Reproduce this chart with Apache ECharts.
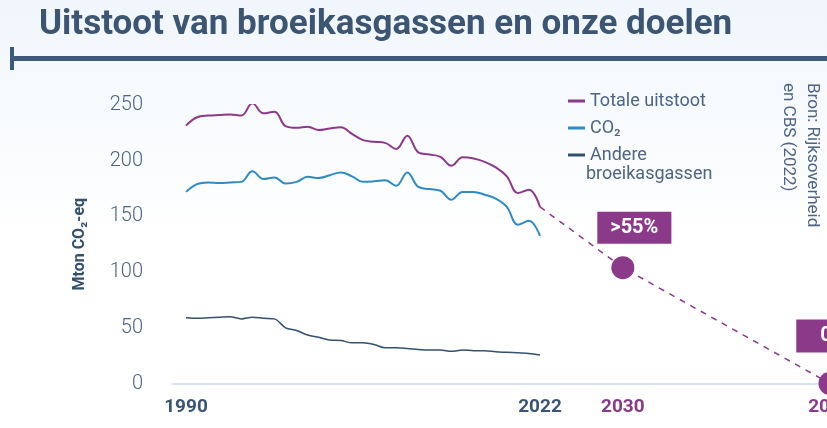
<!DOCTYPE html>
<html>
<head>
<meta charset="utf-8">
<script src="https://cdn.jsdelivr.net/npm/echarts@6/dist/echarts.min.js"></script>
<style>
  html, body { margin: 0; padding: 0; }
  #chart { width: 827px; height: 428px; }
</style>
</head>
<body>
<div id="chart"></div>
<script>
// jaren en uitstoot (Mton CO2-eq)
var years = [
  1990, 1991, 1992, 1993, 1994, 1995, 1996, 1997, 1998, 1999,
  2000, 2001, 2002, 2003, 2004, 2005, 2006, 2007, 2008, 2009,
  2010, 2011, 2012, 2013, 2014, 2015, 2016, 2017, 2018, 2019,
  2020, 2021, 2022,
]
var totaal = [
  231.5, 239, 240.5, 241, 241.5, 240.5, 251.5, 242.5, 244, 231,
  229.5, 230.5, 227.5, 229, 230, 224, 218.5, 217, 216, 210.5,
  222.5, 207.5, 205.5, 203.5, 195.5, 203, 202, 199, 194, 186,
  171, 174, 158.5,
]
var co2 = [
  172, 179, 180.5, 180, 180.5, 181, 190.5, 183.5, 185, 179.5,
  181, 185.5, 184.5, 187, 189.5, 186, 181, 181.5, 182.5, 177.5,
  189.5, 176.5, 174.5, 173, 165, 172, 172, 169.5, 166, 158.5,
  142.5, 146, 132.5,
]
var andere = [
  59, 58.5, 59, 59.5, 60, 58, 59.5, 58.5, 58, 50,
  47.5, 43.5, 41.5, 39, 38.5, 36.5, 36.5, 35, 32, 32,
  31.5, 30.5, 30, 30, 29, 30, 29.5, 29.5, 28.5, 28,
  27.5, 27, 25.5,
]

// doelen
var doelJaren = [2022, 2030, 2050]
var doelWaarden = [158.5, 104, 0]
var doelLabels = ['', '>55%', '0']

var histLabels = [1990, 2022]
var doelAsLabels = [2030, 2050]

var paars = '#8b3a8a'
var blauw = '#2f8bc2'
var donker = '#34506f'
var tekst = '#4d6485'
var font = 'Roboto, sans-serif'

function pairs(xs, ys) {
  return xs.map(function (x, i) {
    return [x, ys[i]]
  })
}

var myChart = echarts.init(document.getElementById('chart'))

var option = {
  backgroundColor: new echarts.graphic.LinearGradient(0, 0, 0, 1, [
    { offset: 0, color: '#f1f6fc' },
    { offset: 0.55, color: '#ffffff' },
    { offset: 1, color: '#ffffff' },
  ]),
  animation: false,
  title: {
    text: 'Uitstoot van broeikasgassen en onze doelen',
    left: 34,
    top: 3,
    textStyle: {
      fontFamily: font,
      fontWeight: 'bold',
      fontSize: 35,
      color: '#3b5573',
    },
  },
  // titel lijn + bronvermelding
  graphic: [
    { type: 'rect', shape: { x: 10, y: 56, width: 817, height: 5 }, style: { fill: '#3d5a7a' } },
    { type: 'rect', shape: { x: 10, y: 47, width: 4, height: 23 }, style: { fill: '#3d5a7a' } },
    {
      type: 'text',
      x: 824,
      y: 83,
      rotation: -Math.PI / 2,
      style: {
        text: 'Bron: Rijksoverheid\nen CBS (2022)',
        font: '17px ' + font,
        fill: tekst,
        lineHeight: 24,
        textAlign: 'left',
        textVerticalAlign: 'top',
      },
    },
    {
      type: 'text',
      x: 586,
      y: 165,
      style: {
        text: 'broeikasgassen',
        font: '18px ' + font,
        fill: tekst,
      },
    },
  ],
  legend: {
    orient: 'vertical',
    left: 563,
    top: 86,
    itemGap: 7,
    itemWidth: 17,
    itemHeight: 3,
    icon: 'rect',
    data: ['Totale uitstoot', 'CO₂', 'Andere broeikasgassen'],
    formatter: function (name) {
      return name === 'Andere broeikasgassen' ? 'Andere' : name
    },
    textStyle: {
      fontFamily: font,
      fontSize: 18,
      lineHeight: 20,
      color: tekst,
    },
  },
  grid: {
    left: 172,
    right: -23,
    top: 105,
    bottom: 44.5,
    containLabel: false,
    outerBoundsMode: 'none',
  },
  xAxis: [
    {
      // historische reeks
      type: 'value',
      position: 'bottom',
      min: 1988.7345,
      max: 2050.0226,
      axisLine: { show: true, onZero: false, lineStyle: { color: '#c9dcef', width: 1.5 } },
      axisTick: { show: false },
      splitLine: { show: false },
      axisLabel: {
        customValues: histLabels,
        margin: 14,
        fontFamily: font,
        fontWeight: 'bold',
        fontSize: 19,
        color: '#3b5573',
        formatter: function (v) {
          return String(v)
        },
      },
    },
    {
      // doelen
      type: 'value',
      position: 'bottom',
      min: 1986.469,
      max: 2051.932,
      axisLine: { show: false, onZero: false },
      axisTick: { show: false },
      splitLine: { show: false },
      axisLabel: {
        customValues: doelAsLabels,
        margin: 14,
        fontFamily: font,
        fontWeight: 'bold',
        fontSize: 19,
        color: paars,
        formatter: function (v) {
          return String(v)
        },
      },
    },
  ],
  yAxis: {
    type: 'value',
    min: 0,
    max: 250,
    interval: 50,
    name: 'Mton CO₂-eq',
    nameLocation: 'middle',
    nameRotate: 90,
    nameGap: 84,
    nameTextStyle: {
      fontFamily: font,
      fontWeight: 'bold',
      fontSize: 16,
      color: donker,
    },
    axisLine: { show: false },
    axisTick: { show: false },
    splitLine: { show: false },
    axisLabel: {
      margin: 29,
      fontFamily: font,
      fontWeight: 300,
      fontSize: 20,
      color: tekst,
    },
  },
  series: [
    {
      name: 'Totale uitstoot',
      type: 'line',
      xAxisIndex: 0,
      data: pairs(years, totaal),
      smooth: 0.4,
      showSymbol: false,
      itemStyle: { color: paars },
      lineStyle: { color: paars, width: 2 },
      z: 3,
    },
    {
      name: 'CO₂',
      type: 'line',
      xAxisIndex: 0,
      data: pairs(years, co2),
      smooth: 0.4,
      showSymbol: false,
      itemStyle: { color: blauw },
      lineStyle: { color: blauw, width: 2 },
      z: 3,
    },
    {
      name: 'Andere broeikasgassen',
      type: 'line',
      xAxisIndex: 0,
      data: pairs(years, andere),
      smooth: 0.3,
      showSymbol: false,
      itemStyle: { color: donker },
      lineStyle: { color: donker, width: 1.5 },
      z: 3,
    },
    {
      name: 'Pad',
      type: 'line',
      xAxisIndex: 1,
      data: pairs(doelJaren, doelWaarden),
      showSymbol: false,
      lineStyle: { color: paars, width: 1.5, type: [6, 6] },
      z: 2,
    },
    {
      name: 'Doelen',
      type: 'scatter',
      xAxisIndex: 1,
      symbolSize: 23,
      itemStyle: { color: paars, opacity: 1 },
      z: 4,
      data: [
        {
          value: [doelJaren[1], doelWaarden[1]],
          label: { distance: 12.5, offset: [11.5, 0], padding: [6, 13, 5, 13] },
        },
        {
          value: [doelJaren[2], doelWaarden[2]],
          label: { distance: 19.5, offset: [-10, 0], padding: [6, 12, 6, 24] },
        },
      ],
      label: {
        show: true,
        position: 'top',
        formatter: function (p) {
          return doelLabels[p.dataIndex + 1]
        },
        backgroundColor: paars,
        opacity: 1,
        color: '#ffffff',
        fontFamily: font,
        fontWeight: 'bold',
        fontSize: 20,
        lineHeight: 21,
      },
    },
  ],
}

myChart.setOption(option)
</script>
</body>
</html>
